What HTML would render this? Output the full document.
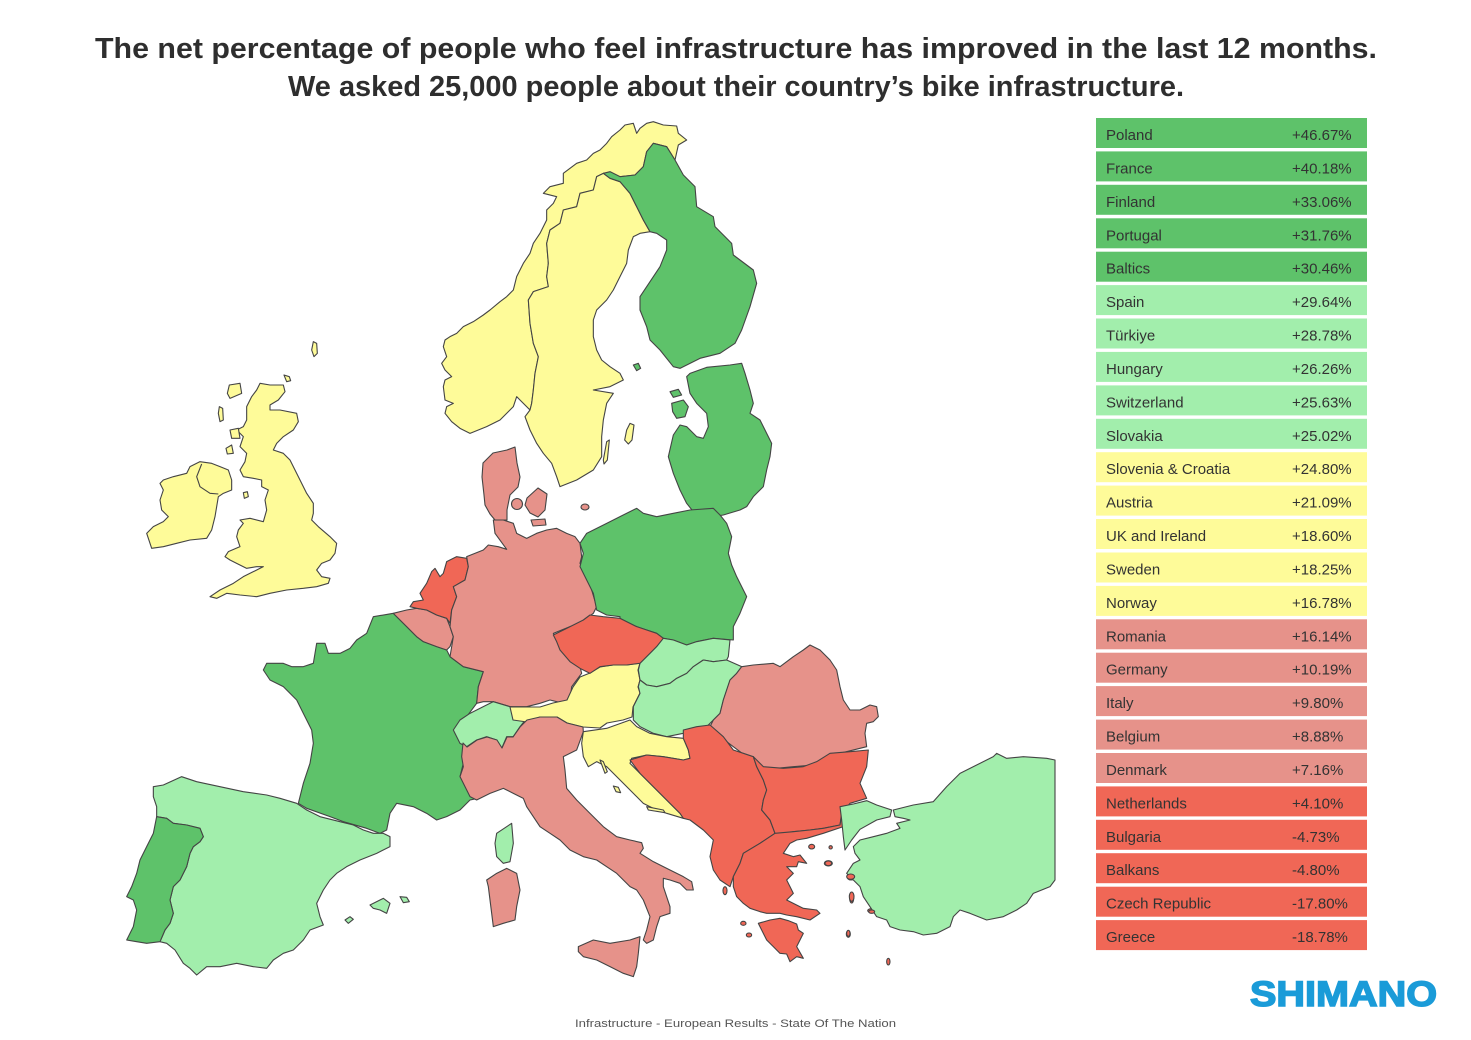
<!DOCTYPE html>
<html>
<head>
<meta charset="utf-8">
<style>
html,body{margin:0;padding:0;background:#fff;}
svg{display:block;}
.m{stroke:#444;stroke-width:1.1;stroke-linejoin:round;}
.dg{fill:#5ec26a;}
.lg{fill:#a2eeac;}
.ye{fill:#fefb99;}
.sa{fill:#e6928a;}
.rd{fill:#f06756;}
.ns{vector-effect:non-scaling-stroke;}
.tn{font-family:"Liberation Sans",Arial,sans-serif;font-size:15px;fill:#333;}
</style>
</head>
<body>
<svg width="1471" height="1040" viewBox="0 0 1471 1040" xmlns="http://www.w3.org/2000/svg">
<rect width="1471" height="1040" fill="#fff"/>

<!-- Title -->
<text x="95" y="58" textLength="1282" lengthAdjust="spacingAndGlyphs" font-family="Liberation Sans, Arial, sans-serif" font-weight="bold" font-size="29" fill="#2e2e2e">The net percentage of people who feel infrastructure has improved in the last 12 months.</text>
<text x="288" y="96" textLength="896" lengthAdjust="spacingAndGlyphs" font-family="Liberation Sans, Arial, sans-serif" font-weight="bold" font-size="29" fill="#2e2e2e">We asked 25,000 people about their country’s bike infrastructure.</text>

<!-- MAP -->
<g class="m">
<!-- Scandinavia / Baltics (zoom4) -->
<g transform="translate(420,110) scale(0.33333)">
<polygon class="ye ns" points="680,40 700,35 730,45 770,48 775,70 800,90 775,105 765,150 740,110 700,100 680,125 670,170 645,195 600,200 550,190 530,200 520,240 480,250 470,290 430,300 420,340 390,360 380,400 385,460 380,500 385,530 340,545 325,570 330,640 340,700 355,740 345,790 340,840 335,880 330,900 300,870 290,860 280,890 240,930 200,950 150,970 120,955 95,935 75,910 80,890 100,880 75,870 70,830 75,810 95,800 75,780 65,760 80,740 70,710 75,690 90,680 110,670 130,650 160,635 190,615 210,600 240,575 260,560 280,540 290,500 310,460 330,430 340,400 360,370 380,330 380,300 400,280 410,260 370,250 390,230 430,220 430,190 470,160 500,150 520,130 540,120 560,100 575,80 600,60 615,45 640,40 650,70 660,55"/>
<polygon class="ye ns" points="550,190 570,205 600,215 630,250 650,290 670,330 690,365 660,370 640,380 625,420 620,460 600,500 580,540 560,570 530,600 520,630 520,680 530,720 545,750 570,770 600,790 610,810 570,830 520,840 580,850 560,880 550,930 545,980 545,1040 520,1080 470,1110 420,1130 410,1100 395,1060 370,1030 350,1000 330,960 315,920 330,900 335,880 340,840 345,790 355,740 340,700 330,640 325,570 340,545 385,530 380,500 385,460 380,400 390,360 420,340 430,300 470,290 480,250 520,240 530,200"/>
<polygon class="ye ns" points="630,940 642,945 636,990 625,1002 614,990 620,960"/>
<polygon class="ye ns" points="560,995 568,990 562,1050 552,1062 550,1050"/>
<polygon class="dg ns" points="550,190 570,185 600,200 645,195 670,170 680,125 700,100 740,110 765,150 790,195 825,230 830,290 880,320 885,350 935,400 940,435 1000,480 1010,520 990,590 965,660 945,700 900,730 840,745 780,775 760,770 720,720 690,690 680,650 660,600 660,560 680,530 720,470 740,420 740,390 710,370 690,365 670,330 650,290 630,250 600,215 570,205"/>
<polygon class="dg ns" points="640,765 655,760 662,775 650,782"/>
<polygon class="dg ns" points="810,790 860,772 930,765 965,760 975,790 990,840 1000,880 990,910 1020,930 1035,960 1055,1000 1050,1040 1040,1080 1030,1130 1000,1160 980,1190 960,1200 910,1215 880,1220 840,1230 800,1180 780,1140 760,1090 745,1040 760,975 780,945 800,950 830,980 850,985 865,950 860,910 830,880 810,850 800,800"/>
<polygon class="dg ns" points="755,880 790,870 805,890 795,920 770,925 758,905"/>
<polygon class="dg ns" points="750,845 775,838 785,855 760,862"/>
</g>

<!-- Denmark (actual coords) -->
<polygon class="sa" points="515,447 507,450 493,453 483,463 482,477 484,495 485,505 490,514 495,520 507,520 507,510 510,495 518,487 520,477 517,463"/>
<circle class="sa" cx="517" cy="504" r="5.5"/>
<polygon class="sa" points="527,498 538,488 547,494 545,510 538,517 530,513 525,505"/>
<polygon class="sa" points="531,520 545,519 546,525 533,526"/>
<ellipse class="sa" cx="585" cy="507" rx="4" ry="3"/>

<!-- UK & Ireland (zoom5) -->
<g transform="translate(130,330) scale(0.33333)">
<polygon class="ye ns" points="390,160 420,165 460,165 465,185 445,210 420,225 420,240 450,240 500,250 505,275 490,300 460,320 440,340 430,360 460,370 480,390 495,420 510,450 530,490 550,520 550,550 545,570 565,590 600,620 620,640 615,670 600,690 575,700 560,720 575,740 600,745 595,760 560,770 520,775 470,780 420,790 380,800 330,795 290,790 260,805 240,800 270,780 310,760 340,740 370,725 400,710 380,710 350,715 320,700 300,690 285,680 295,665 330,650 320,620 325,600 340,580 330,570 360,565 400,575 410,540 405,510 415,480 395,470 395,450 370,445 340,440 330,420 345,395 350,370 330,350 340,320 320,300 340,290 350,270 350,230 365,200 380,180"/>
<polygon class="ye ns" points="100,450 130,440 170,430 180,410 210,395 245,400 270,410 295,420 305,450 305,480 280,490 265,500 260,530 255,560 245,600 230,625 180,630 140,640 100,650 65,655 50,610 70,590 100,575 115,560 95,540 90,510 100,480 90,460"/>
<polyline class="ns" fill="none" points="215,402 200,440 210,470 240,490 265,492"/>
<polygon class="ye ns" points="550,35 560,40 562,70 552,80 545,60"/>
<polygon class="ye ns" points="462,135 478,140 482,152 470,155"/>
<polygon class="ye ns" points="298,165 330,160 335,190 300,205 292,190"/>
<polygon class="ye ns" points="268,230 278,235 280,270 270,275 265,250"/>
<polygon class="ye ns" points="300,300 325,295 330,325 305,325"/>
<polygon class="ye ns" points="288,355 305,345 310,370 292,372"/>
<polygon class="ye ns" points="340,488 352,485 355,500 343,505"/>
</g>

<!-- Central West (zoom6) -->
<g transform="translate(250,500) scale(0.33333)">
<polygon class="dg ns" points="430,340 470,380 500,410 520,425 560,440 590,450 600,470 640,500 700,515 685,560 680,610 650,650 615,700 640,730 640,790 630,830 650,850 680,870 685,895 660,900 630,930 590,950 560,960 530,940 490,920 440,910 420,940 410,990 390,1000 350,985 280,965 240,950 170,925 145,910 160,850 180,790 190,730 185,690 160,640 140,600 100,560 60,540 40,510 50,490 100,490 125,500 160,500 190,490 200,430 225,430 235,460 270,460 300,445 320,420 350,400 370,350"/>
<polygon class="sa ns" points="430,340 470,330 500,325 530,330 560,345 590,355 600,380 610,410 600,440 590,450 560,440 520,425 500,410 470,380"/>
<polygon class="rd ns" points="520,300 510,280 530,250 545,215 555,205 570,230 580,220 590,185 620,170 650,175 655,200 645,240 610,260 620,290 605,330 600,370 590,355 560,345 530,330 500,325 480,320 490,305"/>
<polygon class="sa ns" points="650,170 700,150 715,135 745,140 770,148 735,100 730,60 760,60 790,70 800,100 830,115 860,100 890,90 920,85 950,100 975,110 990,130 995,170 990,190 1010,220 1025,270 1040,320 1030,340 990,370 960,380 910,400 930,430 960,470 990,500 995,520 965,560 960,600 940,610 900,600 870,610 830,620 780,620 730,605 700,605 680,610 685,560 700,515 640,500 600,470 610,410 600,380 605,330 620,290 610,260 645,240 655,200"/>
<polygon class="lg ns" points="610,690 630,660 660,640 700,620 730,605 780,620 820,625 830,655 810,680 790,710 770,710 755,745 740,720 710,710 680,720 650,740 630,730 615,700"/>
</g>

<!-- Austria (actual) -->
<polygon class="ye" points="510,707 540,707 553,703 567,700 573,687 580,677 590,673 600,667 613,665 627,665 640,663 638,670 640,680 638,687 640,693 633,707 632,717 623,720 607,723 600,728 583,727 567,723 557,717 540,717 527,722 513,720"/>

<!-- Central East (zoom7) -->
<g transform="translate(540,500) scale(0.33333)">
<polygon class="dg ns" points="120,130 140,100 200,70 240,50 290,25 310,40 350,50 400,40 450,30 520,25 540,45 560,70 575,110 565,160 575,195 590,230 620,290 600,340 580,380 580,420 520,415 470,425 440,435 400,420 370,415 350,400 320,390 290,380 270,370 240,355 240,350 200,345 170,330 160,280 140,240 120,200 130,160"/>
<polygon class="rd ns" points="40,405 80,385 130,360 150,345 190,350 240,355 270,370 290,380 320,390 350,400 370,415 350,440 330,460 300,490 260,495 220,495 180,500 150,520 120,505 90,485 60,450 50,425"/>
<polygon class="lg ns" points="370,415 400,420 440,435 470,425 520,415 570,420 565,470 560,480 520,485 490,480 460,500 440,520 410,535 390,550 350,560 320,555 300,540 295,510 300,490 330,460 350,440"/>
<polygon class="lg ns" points="300,540 320,555 350,560 390,550 410,535 440,520 460,500 490,480 520,485 560,480 605,500 590,520 570,540 550,600 540,640 520,660 500,680 470,690 430,700 380,710 340,700 300,680 280,660 280,620 300,580 295,560"/>
<polygon class="sa ns" points="520,660 540,640 550,600 570,540 590,520 605,500 640,495 700,490 720,500 760,470 790,450 810,435 840,450 870,480 890,510 900,560 910,600 930,630 960,630 990,615 1010,620 1015,650 1000,665 980,670 975,700 980,740 960,745 900,760 850,780 820,795 760,800 710,805 660,800 640,790 620,770 580,740 540,710 510,680"/>
</g>

<!-- South (zoom9) -->
<g transform="translate(450,700) scale(0.33333)">
<polygon class="sa ns" points="39,129 51,141 81,120 111,111 141,120 156,144 171,111 189,111 210,81 231,60 270,51 321,51 351,69 399,81 400,95 380,150 340,170 345,210 350,265 380,300 420,340 460,380 500,410 540,420 575,428 580,445 570,460 610,485 660,510 700,530 725,545 730,570 710,570 690,550 660,540 640,535 640,560 650,590 660,620 660,640 630,650 620,680 610,720 590,730 580,720 590,690 600,650 580,600 560,570 540,560 520,540 500,520 470,500 440,480 400,470 360,450 330,420 300,400 270,380 250,350 230,320 220,295 190,280 160,265 120,280 80,300 60,290 45,260 30,230 40,200 35,170"/>
<polygon class="sa ns" points="385,740 430,720 480,730 540,720 570,710 565,760 560,800 550,830 520,820 480,800 440,780 400,770 385,755"/>
<polygon class="sa ns" points="110,540 140,520 170,505 200,520 210,570 200,620 195,660 160,670 130,680 125,640 120,600 115,560"/>
<polygon class="lg ns" points="140,400 185,370 190,430 180,485 160,490 140,470 135,430"/>
<polygon class="ye ns" points="400,95 470,85 540,60 560,80 600,100 650,110 700,115 715,150 720,175 700,180 640,170 590,165 545,175 540,190 570,220 600,250 630,280 660,310 690,340 700,355 650,340 610,325 580,310 560,290 530,260 500,230 470,200 440,185 415,200 400,170 395,130"/>
<polygon class="ye ns" points="450,180 460,185 472,215 465,220"/>
<polygon class="ye ns" points="490,258 505,262 512,278 498,275"/>
<polygon class="ye ns" points="590,320 640,330 645,338 595,330"/>
<polygon class="rd ns" points="540,180 590,165 640,170 700,180 720,175 715,150 700,115 700,90 740,80 780,75 820,110 850,150 880,160 910,170 920,200 940,240 950,270 940,300 935,330 960,360 975,400 930,430 880,460 870,490 850,530 840,560 810,540 790,510 780,470 790,420 760,390 720,360 700,355 690,340 660,310 630,280 600,250 570,220"/>
<polygon class="rd ns" points="910,170 940,200 1000,205 1060,200 1100,185 1140,160 1200,155 1255,150 1250,200 1230,250 1250,295 1200,310 1175,340 1170,375 1120,385 1080,390 1030,395 980,405 975,400 960,360 935,330 940,300 950,270 940,240 920,200"/>
<polygon class="rd ns" points="850,530 870,490 880,460 930,430 975,400 1030,395 1080,390 1120,385 1170,375 1175,345 1185,350 1180,380 1120,400 1070,415 1040,420 1020,430 1000,460 1030,470 1050,465 1070,490 1045,485 1040,500 1010,500 1030,520 1010,540 1020,560 1030,580 1010,600 1030,610 1060,625 1100,630 1110,640 1080,660 1040,650 1010,645 990,640 950,640 930,635 900,625 880,610 860,590 850,560"/>
<polygon class="rd ns" points="925,670 960,660 990,655 1015,662 1040,672 1045,690 1060,700 1050,720 1040,740 1060,775 1040,770 1020,785 1010,762 990,760 970,740 950,720 940,700"/>
<ellipse class="rd ns" cx="825" cy="572" rx="6" ry="12"/>
<ellipse class="rd ns" cx="880" cy="670" rx="8" ry="6"/>
<ellipse class="rd ns" cx="897" cy="705" rx="8" ry="6"/>
<ellipse class="rd ns" cx="1085" cy="440" rx="9" ry="7"/>
<ellipse class="rd ns" cx="1142" cy="442" rx="5" ry="5"/>
<ellipse class="rd ns" cx="1135" cy="490" rx="12" ry="8"/>
<ellipse class="rd ns" cx="1203" cy="530" rx="12" ry="10"/>
<ellipse class="rd ns" cx="1205" cy="595" rx="6" ry="14"/>
<ellipse class="rd ns" cx="1195" cy="702" rx="6" ry="10"/>
<ellipse class="rd ns" cx="1265" cy="632" rx="12" ry="6"/>
<ellipse class="rd ns" cx="1315" cy="785" rx="5" ry="10"/>
</g>

<!-- Iberia (zoom8) -->
<g transform="translate(120,760) scale(0.33333)">
<polygon class="lg ns" points="100,80 130,75 185,50 230,65 300,80 370,95 440,105 480,115 530,130 560,150 600,170 660,185 700,195 730,210 760,220 790,220 810,230 810,260 770,280 720,300 680,320 650,340 630,360 610,390 590,430 600,470 610,495 570,510 550,540 520,570 490,580 460,600 440,625 400,620 350,610 300,620 260,620 230,645 210,625 190,610 165,570 140,550 120,545 135,510 150,490 160,460 150,420 160,380 180,360 200,320 210,280 220,260 240,245 250,230 240,205 200,195 160,190 140,175 110,170 110,140 100,110"/>
<polygon class="dg ns" points="110,170 140,175 160,190 200,195 240,205 250,230 240,245 220,260 210,280 200,320 180,360 160,380 150,420 160,460 150,490 135,510 120,545 80,550 50,545 20,540 40,500 50,450 40,420 20,410 35,380 50,340 60,300 80,260 100,220"/>
<polygon class="lg ns" points="750,435 790,415 810,430 800,460 780,450 760,445"/>
<polygon class="lg ns" points="840,410 860,412 868,425 850,428"/>
<polygon class="lg ns" points="675,480 690,470 700,478 685,490"/>
</g>

<!-- Turkey (zoom10) -->
<g transform="translate(820,740) scale(0.33333)">
<polygon class="lg ns" points="60,200 100,192 140,182 170,195 215,210 210,230 170,240 120,268 95,300 75,330 70,290 65,240"/>
<polygon class="lg ns" points="220,210 280,195 340,185 380,140 420,100 470,75 520,50 530,40 560,55 610,50 680,55 705,60 705,420 690,440 640,460 620,490 590,510 550,530 500,540 450,520 420,510 400,530 390,560 350,580 310,585 280,575 240,570 210,560 200,540 170,530 150,500 130,470 120,440 100,420 80,400 100,370 120,360 105,340 100,320 120,300 160,290 200,280 240,265 230,250 270,240 250,235 225,230"/>
<ellipse class="rd ns" cx="25" cy="370" rx="10" ry="7"/>
<ellipse class="rd ns" cx="92" cy="410" rx="12" ry="8"/>
<ellipse class="rd ns" cx="95" cy="470" rx="7" ry="14"/>
<ellipse class="rd ns" cx="155" cy="515" rx="9" ry="5"/>
<ellipse class="rd ns" cx="85" cy="580" rx="5" ry="9"/>
</g>
</g>

<!-- Legend table -->
<g>
<rect x="1096" y="118" width="271" height="30" class="dg"/>
<rect x="1096" y="151.4" width="271" height="30" class="dg"/>
<rect x="1096" y="184.8" width="271" height="30" class="dg"/>
<rect x="1096" y="218.3" width="271" height="30" class="dg"/>
<rect x="1096" y="251.7" width="271" height="30" class="dg"/>
<rect x="1096" y="285.1" width="271" height="30" class="lg"/>
<rect x="1096" y="318.5" width="271" height="30" class="lg"/>
<rect x="1096" y="351.9" width="271" height="30" class="lg"/>
<rect x="1096" y="385.4" width="271" height="30" class="lg"/>
<rect x="1096" y="418.8" width="271" height="30" class="lg"/>
<rect x="1096" y="452.2" width="271" height="30" class="ye"/>
<rect x="1096" y="485.6" width="271" height="30" class="ye"/>
<rect x="1096" y="519.0" width="271" height="30" class="ye"/>
<rect x="1096" y="552.5" width="271" height="30" class="ye"/>
<rect x="1096" y="585.9" width="271" height="30" class="ye"/>
<rect x="1096" y="619.3" width="271" height="30" class="sa"/>
<rect x="1096" y="652.7" width="271" height="30" class="sa"/>
<rect x="1096" y="686.1" width="271" height="30" class="sa"/>
<rect x="1096" y="719.6" width="271" height="30" class="sa"/>
<rect x="1096" y="753.0" width="271" height="30" class="sa"/>
<rect x="1096" y="786.4" width="271" height="30" class="rd"/>
<rect x="1096" y="819.8" width="271" height="30" class="rd"/>
<rect x="1096" y="853.2" width="271" height="30" class="rd"/>
<rect x="1096" y="886.7" width="271" height="30" class="rd"/>
<rect x="1096" y="920.1" width="271" height="30" class="rd"/>

<text class="tn" x="1106" y="140">Poland</text><text class="tn" x="1292" y="140">+46.67%</text>
<text class="tn" x="1106" y="173.4">France</text><text class="tn" x="1292" y="173.4">+40.18%</text>
<text class="tn" x="1106" y="206.8">Finland</text><text class="tn" x="1292" y="206.8">+33.06%</text>
<text class="tn" x="1106" y="240.3">Portugal</text><text class="tn" x="1292" y="240.3">+31.76%</text>
<text class="tn" x="1106" y="273.7">Baltics</text><text class="tn" x="1292" y="273.7">+30.46%</text>
<text class="tn" x="1106" y="307.1">Spain</text><text class="tn" x="1292" y="307.1">+29.64%</text>
<text class="tn" x="1106" y="340.5">Türkiye</text><text class="tn" x="1292" y="340.5">+28.78%</text>
<text class="tn" x="1106" y="373.9">Hungary</text><text class="tn" x="1292" y="373.9">+26.26%</text>
<text class="tn" x="1106" y="407.4">Switzerland</text><text class="tn" x="1292" y="407.4">+25.63%</text>
<text class="tn" x="1106" y="440.8">Slovakia</text><text class="tn" x="1292" y="440.8">+25.02%</text>
<text class="tn" x="1106" y="474.2">Slovenia &amp; Croatia</text><text class="tn" x="1292" y="474.2">+24.80%</text>
<text class="tn" x="1106" y="507.6">Austria</text><text class="tn" x="1292" y="507.6">+21.09%</text>
<text class="tn" x="1106" y="541.0">UK and Ireland</text><text class="tn" x="1292" y="541.0">+18.60%</text>
<text class="tn" x="1106" y="574.5">Sweden</text><text class="tn" x="1292" y="574.5">+18.25%</text>
<text class="tn" x="1106" y="607.9">Norway</text><text class="tn" x="1292" y="607.9">+16.78%</text>
<text class="tn" x="1106" y="641.3">Romania</text><text class="tn" x="1292" y="641.3">+16.14%</text>
<text class="tn" x="1106" y="674.7">Germany</text><text class="tn" x="1292" y="674.7">+10.19%</text>
<text class="tn" x="1106" y="708.1">Italy</text><text class="tn" x="1292" y="708.1">+9.80%</text>
<text class="tn" x="1106" y="741.6">Belgium</text><text class="tn" x="1292" y="741.6">+8.88%</text>
<text class="tn" x="1106" y="775.0">Denmark</text><text class="tn" x="1292" y="775.0">+7.16%</text>
<text class="tn" x="1106" y="808.4">Netherlands</text><text class="tn" x="1292" y="808.4">+4.10%</text>
<text class="tn" x="1106" y="841.8">Bulgaria</text><text class="tn" x="1292" y="841.8">-4.73%</text>
<text class="tn" x="1106" y="875.2">Balkans</text><text class="tn" x="1292" y="875.2">-4.80%</text>
<text class="tn" x="1106" y="908.7">Czech Republic</text><text class="tn" x="1292" y="908.7">-17.80%</text>
<text class="tn" x="1106" y="942.1">Greece</text><text class="tn" x="1292" y="942.1">-18.78%</text>
</g>

<!-- Logo -->
<text x="1250" y="1006" textLength="187" lengthAdjust="spacingAndGlyphs" font-family="Liberation Sans, Arial, sans-serif" font-weight="bold" font-size="35" fill="#1a9bd8" stroke="#1a9bd8" stroke-width="1.5">SHIMANO</text>

<!-- Footer -->
<text x="575" y="1027" textLength="321" lengthAdjust="spacingAndGlyphs" font-family="Liberation Sans, Arial, sans-serif" font-size="11" fill="#555">Infrastructure - European Results - State Of The Nation</text>
</svg>
</body>
</html>
